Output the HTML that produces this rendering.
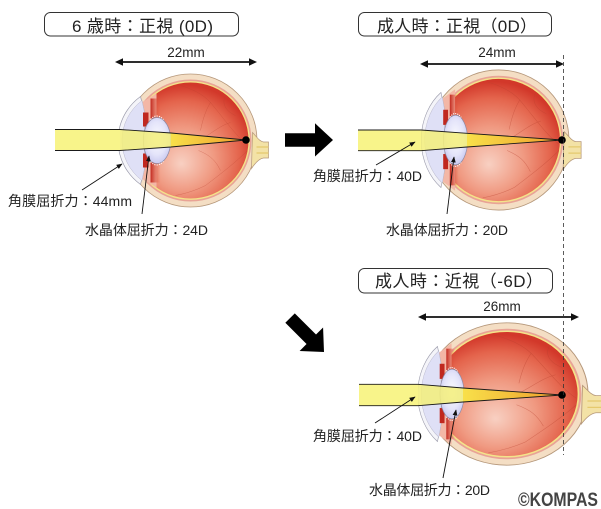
<!DOCTYPE html>
<html><head><meta charset="utf-8">
<style>
html,body{margin:0;padding:0;background:#fff;}
svg{display:block;}
text{font-family:"Liberation Sans","Noto Sans CJK JP",sans-serif;fill:#222;}
</style></head><body>
<svg width="601" height="509" viewBox="0 0 601 509" xmlns="http://www.w3.org/2000/svg">
<defs>
 <radialGradient id="vit" cx="0.45" cy="0.62" r="0.6" fx="0.42" fy="0.7">
   <stop offset="0" stop-color="#f8d0c2"/>
   <stop offset="0.45" stop-color="#f09a82"/>
   <stop offset="0.8" stop-color="#e4644c"/>
   <stop offset="1" stop-color="#d2382a"/>
 </radialGradient>
 <radialGradient id="lensg" cx="0.5" cy="0.45" r="0.6">
   <stop offset="0" stop-color="#fbfbff"/>
   <stop offset="0.6" stop-color="#e4e4fa"/>
   <stop offset="1" stop-color="#c4c4ee"/>
 </radialGradient>
 <linearGradient id="cilg" x1="0" x2="1" y1="0" y2="0">
   <stop offset="0" stop-color="#c22a20"/>
   <stop offset="1" stop-color="#e2583e" stop-opacity="0"/>
 </linearGradient>
 <linearGradient id="beamg" x1="0" x2="1" y1="0" y2="0">
   <stop offset="0" stop-color="#f8e04a"/>
   <stop offset="1" stop-color="#ee9c2c"/>
 </linearGradient>
 <marker id="ah" viewBox="0 0 10 10" refX="9" refY="5" markerWidth="6" markerHeight="6" orient="auto" markerUnits="userSpaceOnUse">
   <path d="M0 1 L10 5 L0 9 Z" fill="#111"/>
 </marker>

 <g id="globe">
   <circle r="66.5" fill="#f4dec4" stroke="#b5977a" stroke-width="0.8"/>
   <path d="M62 -8 C66 -4 69 1 73 1.5 L78 1.5 L78 17.5 L73 17.5 C69 18 65 22 61 28 Z" fill="#f3e2a6" stroke="#b5977a" stroke-width="0.7"/>
   <path d="M66 6.5 L78 6.5 M66 12.5 L78 12.5" stroke="#e5c96e" stroke-width="1.2"/>
   <circle r="61" fill="#e9a396"/>
   <circle r="59.4" fill="#f4e38a"/>
   <circle r="58" fill="url(#vit)"/>
   <g fill="none" stroke="#b8402e" stroke-width="0.5" opacity="0.45">
     <path d="M57 4 C45 -5 35 -20 20 -38 C12 -47 0 -52 -10 -55"/>
     <path d="M40 -18 C30 -15 22 -8 12 -2"/>
     <path d="M57 10 C45 22 32 32 15 45 C5 50 -5 53 -15 55"/>
     <path d="M30 30 C25 20 20 15 8 10"/>
     <path d="M20 -38 C15 -30 12 -20 10 -10"/>
     <path d="M35 -45 C30 -35 38 -28 45 -25"/>
   </g>
 </g>

 <g id="front">
   <path d="M-52 -36 L-34 -47 L-34 47 L-52 36 Z" fill="#f3b7a6"/>
   <rect x="-40" y="-42" width="10" height="84" fill="url(#cilg)"/>
   <path d="M-50 -44 A54.3 54.3 0 0 0 -50 44 L-46 28 L-46 -28 Z" fill="#f4f4f9" stroke="#9c9cac" stroke-width="0.7"/>
   <path d="M-48.5 -40 A50 50 0 0 0 -48.5 40 L-46 28 L-46 -28 Z" fill="#dfe0f6" stroke="#b8b8cc" stroke-width="0.5"/>
   <rect x="-47.5" y="-28" width="5.5" height="14" fill="#c0281f"/>
   <rect x="-47.5" y="13" width="5.5" height="14" fill="#c0281f"/>
   <ellipse cx="-33.5" cy="0" rx="13.7" ry="23" fill="url(#lensg)" stroke="#8a8aa6" stroke-width="0.7"/>
   <path d="M-40 -21 Q-34 -28 -27 -21" fill="none" stroke="#fff" stroke-width="1" stroke-dasharray="1.2 1.2"/>
   <path d="M-40 21 Q-34 28 -27 21" fill="none" stroke="#fff" stroke-width="1" stroke-dasharray="1.2 1.2"/>
 </g>
</defs>

<!-- Header boxes -->
<rect x="44.5" y="12.5" width="194" height="23.5" rx="6" fill="#fff" stroke="#333" stroke-width="1"/>
<text x="72" y="32" font-size="17" textLength="141">6 歳時：正視 (0D)</text>
<rect x="358.5" y="12.5" width="193" height="23.5" rx="6" fill="#fff" stroke="#333" stroke-width="1"/>
<text x="377" y="32" font-size="17" textLength="160">成人時：正視（0D）</text>
<rect x="358.5" y="268.5" width="194" height="24.5" rx="6" fill="#fff" stroke="#333" stroke-width="1"/>
<text x="375" y="287" font-size="17" textLength="168">成人時：近視（-6D）</text>

<!-- Dimension arrows -->
<g fill="#111" stroke="#111">
  <line x1="121" y1="62" x2="251" y2="62" stroke-width="1.8"/>
  <polygon points="115,62 123,58.3 123,65.7" stroke="none"/>
  <polygon points="257,62 249,58.3 249,65.7" stroke="none"/>
  <line x1="426" y1="64" x2="558" y2="64" stroke-width="1.8"/>
  <polygon points="420,64 428,60.3 428,67.7" stroke="none"/>
  <polygon points="564,64 556,60.3 556,67.7" stroke="none"/>
  <line x1="424" y1="317" x2="573" y2="317" stroke-width="1.8"/>
  <polygon points="418,317 426,313.3 426,320.7" stroke="none"/>
  <polygon points="579,317 571,313.3 571,320.7" stroke="none"/>
</g>
<text x="186" y="57" font-size="13.5" text-anchor="middle">22mm</text>
<text x="497" y="57" font-size="13.5" text-anchor="middle">24mm</text>
<text x="502" y="311" font-size="13.5" text-anchor="middle">26mm</text>

<!-- Eyes -->
<use href="#globe" transform="translate(190.5,140.5)"/>
<use href="#front" transform="translate(190.5,140.5)"/>
<use href="#globe" transform="translate(498.6,140) scale(1.058,1.053)"/>
<use href="#front" transform="translate(485,140) scale(0.88,1.08)"/>
<use href="#globe" transform="translate(506.7,394) scale(1.223,1.07)"/>
<use href="#front" transform="translate(481.5,394) scale(0.88,1.08)"/>

<!-- Beam 1 -->
<polygon points="55,129.5 120,129.5 120,150.5 55,150.5" fill="#f8f48a"/>
<polygon points="120,129.5 171,133 171,147 120,150.5" fill="#f3ef7a" opacity="0.85"/>
<polygon points="171,133 246,140 171,147" fill="url(#beamg)"/>
<g fill="none" stroke="#1a1a1a" stroke-width="0.9">
  <polyline points="55,129.5 120,129.5 171,133 246,140"/>
  <polyline points="55,150.5 120,150.5 171,147 246,140"/>
</g>
<circle cx="246" cy="140" r="3.8" fill="#000"/>

<!-- Beam 2 -->
<polygon points="358,130 421,130 421,150.7 358,150.7" fill="#f8f48a"/>
<polygon points="421,130 467,133.3 467,147 421,150.7" fill="#f3ef7a" opacity="0.85"/>
<polygon points="467,133.3 562,140 467,147" fill="url(#beamg)"/>
<g fill="none" stroke="#1a1a1a" stroke-width="0.9">
  <polyline points="358,130 421,130 467,133.3 562,140"/>
  <polyline points="358,150.7 421,150.7 467,147 562,140"/>
</g>
<circle cx="562" cy="140" r="3.8" fill="#000"/>

<!-- Beam 3 -->
<polygon points="359,384.3 418,384.3 418,405.7 359,405.7" fill="#f8f48a"/>
<polygon points="418,384.3 463,388 463,402 418,405.7" fill="#f3ef7a" opacity="0.85"/>
<polygon points="463,388 562,395 463,402" fill="url(#beamg)"/>
<g fill="none" stroke="#1a1a1a" stroke-width="0.9">
  <polyline points="359,384.3 418,384.3 463,388 562,395"/>
  <polyline points="359,405.7 418,405.7 463,402 562,395"/>
</g>
<circle cx="562" cy="395" r="3.8" fill="#000"/>

<!-- Dashed reference line -->
<line x1="563.5" y1="55" x2="563.5" y2="455" stroke="#333" stroke-width="0.8" stroke-dasharray="4 3"/>

<!-- Black arrows -->
<polygon points="285,133.3 315,133.3 315,123.3 333,140 315,156.5 315,146.7 285,146.7" fill="#000"/>
<g transform="translate(324,352) rotate(45)">
  <polygon points="-48,-6.7 -18,-6.7 -18,-16.7 0,0 -18,16.5 -18,6.7 -48,6.7" fill="#000"/>
</g>

<!-- Pointer lines -->
<g stroke="#111" stroke-width="0.9" fill="none" marker-end="url(#ah)">
  <line x1="82" y1="190" x2="122" y2="164"/>
  <line x1="142" y1="214" x2="149" y2="156"/>
  <line x1="376" y1="165" x2="415" y2="142"/>
  <line x1="447" y1="214" x2="454" y2="157"/>
  <line x1="375" y1="423" x2="415" y2="397"/>
  <line x1="443" y1="478" x2="456" y2="410"/>
</g>

<!-- Labels -->
<text x="8" y="206" font-size="14" textLength="124">角膜屈折力：44mm</text>
<text x="85" y="235" font-size="14" textLength="123">水晶体屈折力：24D</text>
<text x="313" y="181" font-size="14" textLength="109">角膜屈折力：40D</text>
<text x="386" y="235" font-size="14" textLength="122">水晶体屈折力：20D</text>
<text x="313" y="441" font-size="14" textLength="109">角膜屈折力：40D</text>
<text x="369" y="495" font-size="14" textLength="121">水晶体屈折力：20D</text>

<!-- Copyright -->
<text x="518" y="506" font-size="19" font-weight="bold" textLength="80" lengthAdjust="spacingAndGlyphs" style="fill:#444">©KOMPAS</text>
</svg>
</body></html>
